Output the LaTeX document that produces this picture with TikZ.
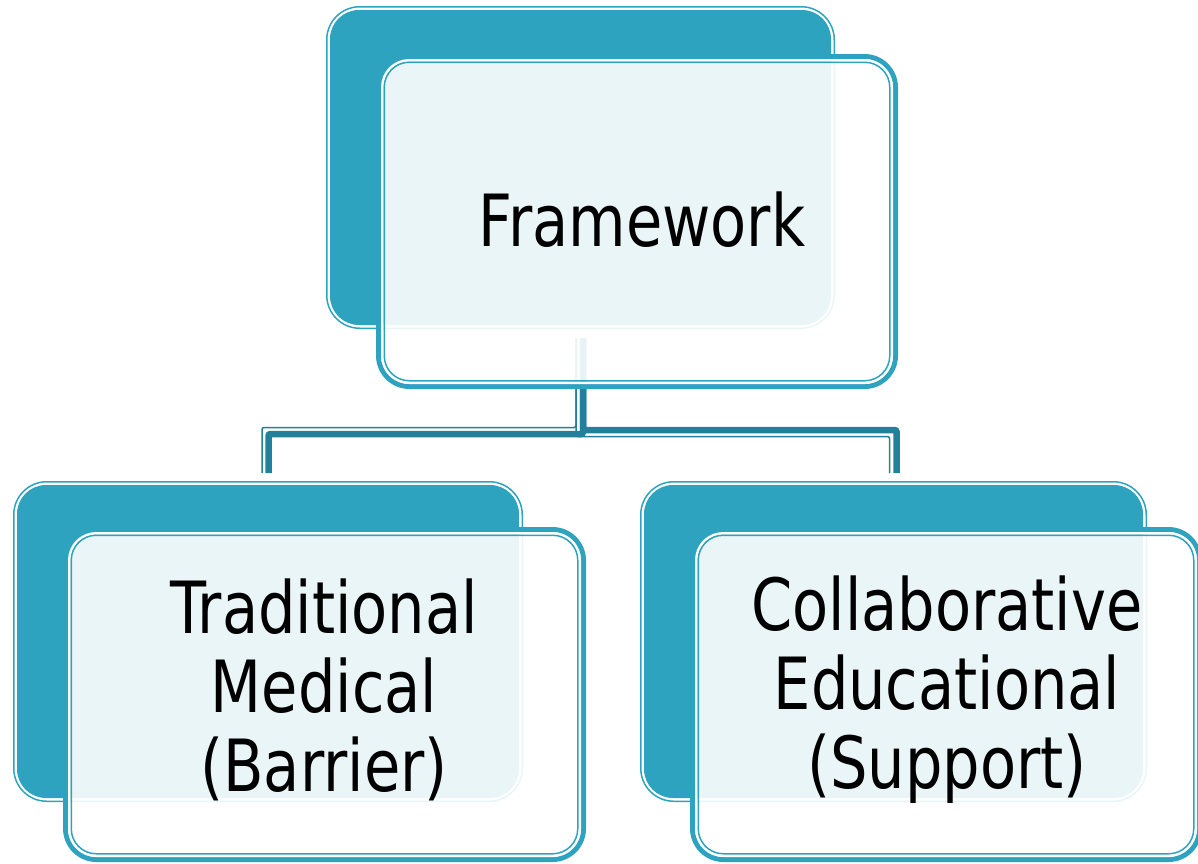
\documentclass[tikz,border=0pt]{standalone}
\usepackage{fontspec}
\setmainfont{DejaVu Sans}
\definecolor{panelteal}{HTML}{2EA3BF}
\definecolor{linkteal}{HTML}{22819A}

% back panel: thin outline, white gap, solid teal body
\newcommand\backpanel[4]{%
  \draw[panelteal, line width=1.5pt, rounded corners=33pt]
    ({#1+0.75},{#2+0.75}) rectangle ({#3-0.75},{#4-0.75});
  \fill[panelteal, rounded corners=29pt]
    ({#1+4},{#2+4}) rectangle ({#3-4},{#4-4});}

% front panel: thick rim, white gap, thin inner rim, translucent white body
\newcommand\frontpanel[4]{%
  \draw[panelteal, line width=5pt, rounded corners=31pt]
    ({#1+2.5},{#2+2.5}) rectangle ({#3-2.5},{#4-2.5});
  \draw[white, line width=2.5pt, rounded corners=27pt]
    ({#1+6.25},{#2+6.25}) rectangle ({#3-6.25},{#4-6.25});
  \fill[white, fill opacity=0.9, rounded corners=26pt]
    ({#1+7.5},{#2+7.5}) rectangle ({#3-7.5},{#4-7.5});
  \draw[panelteal, line width=1.5pt, rounded corners=25pt]
    ({#1+8.25},{#2+8.25}) rectangle ({#3-8.25},{#4-8.25});}

\tikzset{
  paneltext/.style={inner sep=0pt, align=center, xscale=0.82,
    font=\fontsize{72}{79}\selectfont, text=black},
  linkthick/.style={draw=linkteal, line width=6.5pt, rounded corners=2pt},
  linkthin/.style={draw=linkteal, line width=1.5pt, rounded corners=2pt},
}

\begin{document}
\begin{tikzpicture}[x=1pt, y=-1pt]
  \useasboundingbox (0,0) rectangle (1198,863);
  \fill[white] (0,0) rectangle (1198,863);

  % back panels
  \backpanel{326}{6}{835}{329}
  \backpanel{13}{481}{523}{802}
  \backpanel{640}{481}{1147}{802}

  % connector end points
  \coordinate (fwT) at (583,338);
  \coordinate (fwt) at (576,338);
  \coordinate (tradT) at (268.5,473);
  \coordinate (tradt) at (262,473);
  \coordinate (collT) at (896.5,473);
  \coordinate (collt) at (889.5,473);

  % elbow connectors (thin rail beside a thick rail)
  \draw[linkthin] (fwt) -- (fwt |- 0,427.5) -- (tradt |- 0,427.5) -- (tradt);
  \draw[linkthin] (fwt) -- (fwt |- 0,436.5) -- (collt |- 0,436.5) -- (collt);
  \draw[linkthick] (fwT) -- (fwT |- 0,434) -- (tradT |- 0,434) -- (tradT);
  \draw[linkthick] (fwT) -- (fwT |- 0,430) -- (collT |- 0,430) -- (collT);

  % front panels
  \frontpanel{376}{54}{898}{389}
  \frontpanel{63}{527}{586}{862}
  \frontpanel{690}{527}{1202}{862}

  % labels
  \node[paneltext, anchor=base] (framework) at (642,246) {Framework};
  \node[paneltext] (traditional) at (324,690) {Traditional\\Medical\\(Barrier)};
  \node[paneltext] (collaborative) at (947,690) {Collaborative\\Educational\\(Support)};
\end{tikzpicture}
\end{document}
